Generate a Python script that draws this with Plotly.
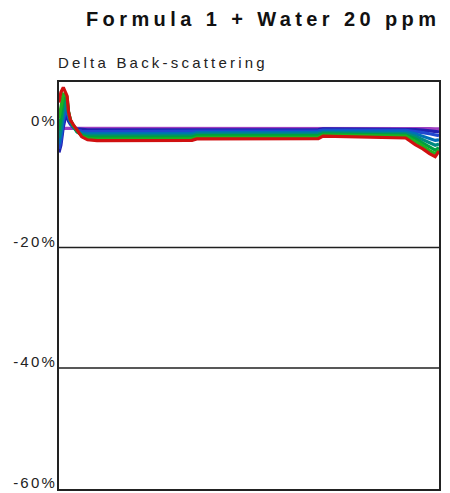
import plotly.graph_objects as go

# Sample height along the cell (mm)
height_mm = [0, 0.2, 0.45, 0.65, 0.85, 1.0, 1.2, 1.5, 1.9, 2.4, 3.0, 4.0,
             14.0, 14.5, 27.3, 27.8, 36.5, 37.5, 38.3, 39.0, 39.6, 40.0]

# Delta back-scattering (%) for successive scans, first to last
scan_1 = [-0.2, -0.2, -0.2, -0.2, -0.2, -0.2, -0.2, -0.2, -0.2, -0.2, -0.2, -0.2,
          -0.2, -0.2, -0.2, -0.15, -0.15, -0.2, -0.2, -0.25, -0.3, -0.3]
scan_2 = [-4.2, -3.0, 0.0, 1.5, 1.8, 1.0, 0.5, 0.0, -0.3, -0.4, -0.45, -0.45,
          -0.45, -0.4, -0.4, -0.3, -0.35, -0.4, -0.5, -0.6, -0.7, -0.8]
scan_3 = [-3.6, -2.2, 1.0, 2.5, 2.8, 1.6, 0.8, 0.0, -0.5, -0.7, -0.75, -0.75,
          -0.75, -0.65, -0.6, -0.5, -0.55, -0.7, -0.9, -1.1, -1.3, -1.4]
scan_4 = [-2.8, -1.2, 2.0, 3.4, 3.6, 2.0, 1.0, 0.0, -0.7, -0.95, -1.05, -1.05,
          -1.05, -0.9, -0.85, -0.7, -0.8, -1.1, -1.5, -1.9, -2.2, -2.1]
scan_5 = [-1.8, -0.2, 3.0, 4.2, 4.2, 2.3, 1.1, 0.1, -0.8, -1.2, -1.35, -1.35,
          -1.35, -1.15, -1.1, -0.9, -1.05, -1.5, -2.1, -2.6, -3.0, -2.8]
scan_6 = [-0.5, 1.5, 4.2, 4.9, 4.6, 2.5, 1.1, 0.2, -0.7, -1.4, -1.65, -1.65,
          -1.65, -1.4, -1.35, -1.1, -1.3, -1.9, -2.6, -3.3, -3.8, -3.4]
scan_7 = [1.5, 3.5, 5.5, 5.4, 5.0, 2.6, 1.2, 0.3, -0.5, -1.5, -1.9, -2.0,
          -1.95, -1.7, -1.65, -1.3, -1.5, -2.4, -3.1, -3.9, -4.4, -3.8]
scan_8 = [4.1, 5.8, 6.6, 5.8, 5.2, 2.6, 1.2, 0.4, -0.4, -1.6, -2.1, -2.25,
          -2.2, -1.95, -1.9, -1.5, -1.8, -2.9, -3.6, -4.4, -4.9, -4.0]

scans = [scan_1, scan_2, scan_3, scan_4, scan_5, scan_6, scan_7, scan_8]
scan_colors = ["#a040c0", "#2020b0", "#2048d0", "#0070b8",
               "#008a80", "#00a040", "#20b020", "#d01010"]

y_ticks = [0, -20, -40, -60]
grid_levels = [-20, -40]

FONT = "Arial, 'Liberation Sans', sans-serif"

fig = go.Figure()
for vals, col in zip(scans, scan_colors):
    fig.add_trace(go.Scatter(x=height_mm, y=vals, mode="lines",
                             line=dict(color=col, width=3.2),
                             showlegend=False, hoverinfo="skip"))

for lvl in grid_levels:
    fig.add_shape(type="line", xref="paper", x0=0, x1=1, yref="y", y0=lvl, y1=lvl,
                  line=dict(color="#202020", width=1.6), layer="above")

fig.update_layout(
    width=450, height=493,
    margin=dict(l=59, r=11, t=82, b=2),
    paper_bgcolor="white", plot_bgcolor="white",
    title=dict(text="<b>Formula 1 + Water 20 ppm</b>",
               font=dict(family=FONT, size=20, color="#111111"),
               x=86 / 450, xanchor="left", xref="container",
               y=1 - 19 / 493, yanchor="middle", yref="container"),
    annotations=[dict(text="Delta Back-scattering", xref="paper", yref="paper",
                      x=-3 / 380, y=1.0 + 20 / 409, xanchor="left", yanchor="middle",
                      align="left", showarrow=False,
                      font=dict(family=FONT, size=15, color="#222222"))],
    xaxis=dict(range=[0, 40], showgrid=False, zeroline=False,
               showticklabels=False, ticks="",
               showline=True, mirror=True, linecolor="#222222", linewidth=2),
    yaxis=dict(range=[-60.1, 7.5], showgrid=False, zeroline=False,
               tickvals=y_ticks, ticktext=[f"{v}%" for v in y_ticks], ticks="",
               ticklabelshift=-6, ticklabelstandoff=-3,
               tickfont=dict(family=FONT, size=15, color="#222222"),
               showline=True, mirror=True, linecolor="#222222", linewidth=2),
)

spacing_js = """
var gd = document.getElementById('{plot_id}');
function spaceText(){
  gd.querySelectorAll('.gtitle').forEach(function(t){t.style.letterSpacing='4.4px';});
  gd.querySelectorAll('.annotation-text').forEach(function(t){t.style.letterSpacing='3.2px';});
  gd.querySelectorAll('.ytick text').forEach(function(t){t.style.letterSpacing='2.2px';});
}
spaceText();
gd.on('plotly_afterplot', spaceText);
"""

fig.write_html("out.html", post_script=spacing_js)
